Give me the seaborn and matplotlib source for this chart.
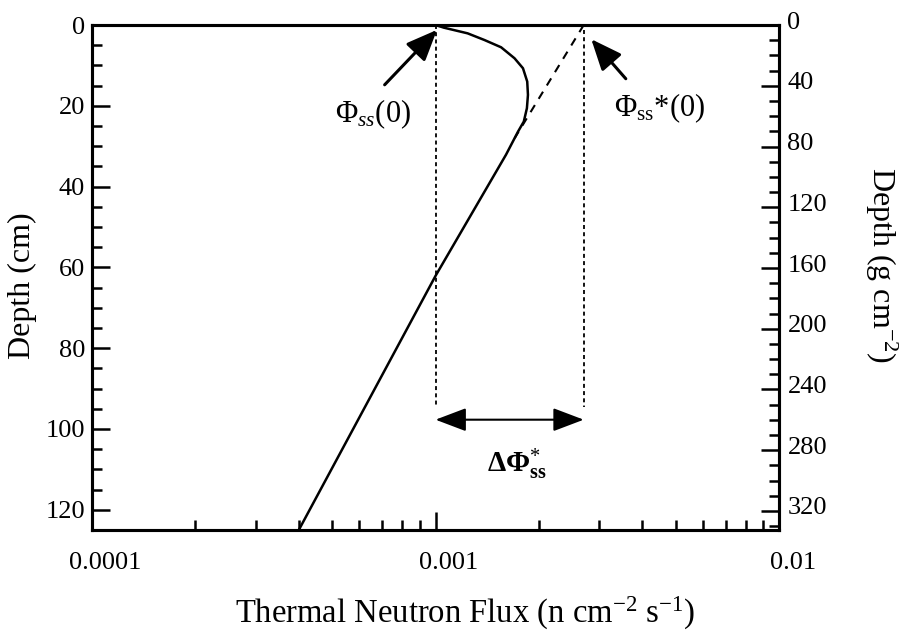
import matplotlib
matplotlib.use("Agg")
import matplotlib.pyplot as plt
import matplotlib.ticker as mticker
import matplotlib.transforms as mtransforms
import pandas as pd
import seaborn as sns

# Steady-state thermal neutron flux profile with depth
depth_cm = [0.0, 0.66, 2.06, 3.70, 5.51, 8.23, 10.7, 14.0, 17.3, 20.6, 23.9, 26.4, 32.1, 62.1, 125.0]
flux = [0.00100, 0.001058, 0.001240, 0.001387, 0.001552, 0.001698, 0.001797, 0.001849,
        0.001858, 0.001845, 0.001807, 0.001738, 0.001604, 0.00100, 0.000400]

# Exponential extrapolation of the deep profile back to the surface
extrap_depth = [0.0, 28.0]
extrap_flux = [0.0027, 0.00170]

phi_ss0 = 0.0010        # surface flux
phi_ss0_star = 0.0027   # extrapolated surface flux
guide_bottom = 94.6     # depth where the guide lines stop
delta_depth = 97.7      # depth of the difference arrow

rock_density = 2.66     # g cm^-3, converts cm to g cm^-2
depth_max = 125.0

x_ticks = [1e-4, 1e-3, 1e-2]
x_tick_labels = ["0.0001", "0.001", "0.01"]
left_ticks = [0, 20, 40, 60, 80, 100, 120]
right_ticks = [0, 40, 80, 120, 160, 200, 240, 280, 320]

sns.set_style("ticks")
plt.rcParams["font.family"] = ["Liberation Serif", "DejaVu Serif"]
plt.rcParams["mathtext.fontset"] = "custom"
plt.rcParams["mathtext.rm"] = "Liberation Serif"
plt.rcParams["mathtext.it"] = "Liberation Serif:italic"
plt.rcParams["mathtext.bf"] = "Liberation Serif:bold"
plt.rcParams["axes.linewidth"] = 2.2
for key in ["text.color", "axes.labelcolor", "axes.edgecolor", "xtick.color", "ytick.color"]:
    plt.rcParams[key] = "black"

fig = plt.figure(figsize=(9.08, 6.35), dpi=100)
ax = fig.add_axes([0.1013, 0.1654, 0.7567, 0.7952])

profile = pd.DataFrame({"flux": flux, "depth": depth_cm})
extrap = pd.DataFrame({"flux": extrap_flux, "depth": extrap_depth})

sns.lineplot(data=profile, x="flux", y="depth", sort=False, estimator=None,
             color="black", lw=1.8, ax=ax)
sns.lineplot(data=extrap, x="flux", y="depth", sort=False, estimator=None,
             color="black", lw=1.5, dashes=False, ax=ax)
ax.lines[-1].set_dashes((4, 3.5))

# vertical guides at the two surface flux values
ax.plot([phi_ss0, phi_ss0], [0, guide_bottom], color="black", lw=1.3,
        dashes=(2.2, 1.8))
ax.plot([phi_ss0_star, phi_ss0_star], [1.2, guide_bottom], color="black", lw=1.3,
        dashes=(2.2, 1.8))

ax.set_xscale("log")
ax.set_xlim(1e-4, 1e-2)
ax.set_ylim(depth_max, 0)
ax.set_xticks(x_ticks, labels=x_tick_labels)
ax.xaxis.set_minor_locator(mticker.LogLocator(base=10, subs=range(2, 10), numticks=20))
ax.xaxis.set_minor_formatter(mticker.NullFormatter())
ax.set_yticks(left_ticks)
ax.yaxis.set_minor_locator(mticker.MultipleLocator(5))

ax.tick_params(which="both", direction="in", width=1.8, labelsize=19, top=False, right=False,
               color="black", labelcolor="black")
ax.tick_params(which="major", length=13)
ax.tick_params(which="minor", length=7.2)
ax.tick_params(axis="x", which="major", pad=16)
ax.tick_params(axis="y", which="major", pad=5)

# secondary depth scale in mass depth
ax2 = ax.twinx()
ax2.set_ylim(depth_max * rock_density, 0)
ax2.set_yticks(right_ticks)
ax2.yaxis.set_minor_locator(mticker.MultipleLocator(10))
ax2.tick_params(which="both", direction="in", width=1.8, labelsize=19,
                color="black", labelcolor="black")
ax2.tick_params(which="major", length=13, pad=6)
ax2.tick_params(which="minor", length=7.2)
for sp in list(ax2.spines.values()) + list(ax.spines.values()):
    sp.set_linewidth(2.2)
    sp.set_color("black")

shift_x = mtransforms.ScaledTranslation(0.135, 0, fig.dpi_scale_trans)
for lab in ax.get_xticklabels():
    lab.set_transform(lab.get_transform() + shift_x)
shift_up = mtransforms.ScaledTranslation(0, 0.05, fig.dpi_scale_trans)
for lab in ax2.get_yticklabels():
    lab.set_transform(lab.get_transform() + shift_up)

ax.set_xlabel(r"Thermal Neutron Flux (n cm$^{-2}$ s$^{-1}$)", fontsize=23.5)
ax.xaxis.set_label_coords(0.543, -0.129)
ax.set_ylabel("Depth (cm)", fontsize=23, va="center")
ax.yaxis.set_label_coords(-0.101, 0.483)
ax2.set_ylabel(r"Depth (g cm$^{-2}$)", fontsize=23, rotation=270, va="center")
ax2.yaxis.set_label_coords(1.1485, 0.524)

# annotations
ax.annotate("", xy=(0.00101, 1.2), xytext=(7.11e-4, 14.8),
            arrowprops=dict(arrowstyle="-|>,head_length=0.95,head_width=0.4",
                            lw=2.2, color="black", shrinkA=0, shrinkB=0,
                            mutation_scale=20))
ax.annotate("", xy=(0.00284, 3.5), xytext=(0.00358, 13.3),
            arrowprops=dict(arrowstyle="-|>,head_length=0.95,head_width=0.4",
                            lw=2.2, color="black", shrinkA=0, shrinkB=0,
                            mutation_scale=20))
ax.annotate("", xy=(phi_ss0_star, delta_depth), xytext=(phi_ss0, delta_depth),
            arrowprops=dict(arrowstyle="<|-|>,head_length=0.95,head_width=0.36",
                            lw=1.5, color="black", shrinkA=0, shrinkB=0,
                            mutation_scale=20))

ax.text(6.6e-4, 24.0, r"$\Phi_{ss}$(0)", fontsize=22, ha="center", va="baseline")
ax.text(0.00449, 22.7, r"$\Phi_{\mathrm{ss}}$*(0)", fontsize=22, ha="center", va="baseline")
ax.text(0.001726, 110.6, r"$\mathbf{\Delta\Phi}^{*}_{\mathbf{ss}}$", fontsize=21,
        ha="center", va="baseline")

fig.savefig("out.png", dpi=100)
